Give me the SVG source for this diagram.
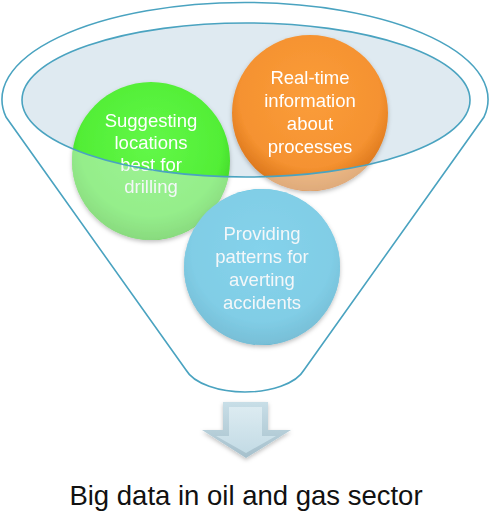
<svg xmlns="http://www.w3.org/2000/svg" width="490" height="514" viewBox="0 0 490 514">
<defs>
<style>
.edge{fill:none;stroke:#4aa3c0;stroke-width:1.6}
.lbl{font-family:"Liberation Sans",Arial,sans-serif;font-size:18.5px;fill:#ffffff;text-anchor:middle}
.title{font-family:"Liberation Sans",Arial,sans-serif;font-size:27.5px;fill:#111111;text-anchor:middle}
</style>
<radialGradient id="gGreen" cx="0.5" cy="0.4" r="0.6">
<stop offset="0" stop-color="#62f848"/><stop offset="0.75" stop-color="#52ee36"/><stop offset="1" stop-color="#3ccb22"/>
</radialGradient>
<radialGradient id="gOrange" cx="0.5" cy="0.4" r="0.6">
<stop offset="0" stop-color="#fb9d3a"/><stop offset="0.75" stop-color="#f59230"/><stop offset="1" stop-color="#d9741a"/>
</radialGradient>
<radialGradient id="gBlue" cx="0.5" cy="0.4" r="0.6">
<stop offset="0" stop-color="#34bde6"/><stop offset="0.75" stop-color="#2db3dc"/><stop offset="1" stop-color="#1e98c0"/>
</radialGradient>
<linearGradient id="gArrow" x1="0" y1="0" x2="0" y2="1">
<stop offset="0" stop-color="#c8dee7"/><stop offset="1" stop-color="#a6c0cc"/>
</linearGradient>
<linearGradient id="gArrowFace" x1="0" y1="0" x2="0" y2="1">
<stop offset="0" stop-color="#dcebf1"/><stop offset="1" stop-color="#c3dbe5"/>
</linearGradient>
<filter id="sh" x="-20%" y="-20%" width="140%" height="140%">
<feDropShadow dx="0" dy="2" stdDeviation="2" flood-color="#000" flood-opacity="0.25"/>
</filter>
<clipPath id="circlesClip">
<circle cx="151" cy="161" r="79"/>
<circle cx="310" cy="113" r="78"/>
<circle cx="262" cy="267" r="78"/>
</clipPath>
</defs>
<rect width="490" height="514" fill="#ffffff"/>
<g id="funnel">
<path d="M 6,117 A 243 97 0 1 1 484,117 L 304,370 C 296,384 270,392 245,392 C 220,392 194,384 186,370 Z" fill="#ffffff"/>
<ellipse cx="246" cy="100" rx="224" ry="77" fill="#dfeaf1"/>
</g>
<g id="node-1" filter="url(#sh)">
<circle cx="151" cy="161" r="79" fill="url(#gGreen)"/>
<text class="lbl" x="151" y="127">Suggesting</text>
<text class="lbl" x="151" y="149">locations</text>
<text class="lbl" x="151" y="171">best for</text>
<text class="lbl" x="151" y="193">drilling</text>
</g>
<g id="node-2" filter="url(#sh)">
<circle cx="310" cy="113" r="78" fill="url(#gOrange)"/>
<text class="lbl" x="310" y="84">Real-time</text>
<text class="lbl" x="310" y="107">information</text>
<text class="lbl" x="310" y="130">about</text>
<text class="lbl" x="310" y="153">processes</text>
</g>
<g id="node-3" filter="url(#sh)">
<circle cx="262" cy="267" r="78" fill="url(#gBlue)"/>
<text class="lbl" x="262" y="240">Providing</text>
<text class="lbl" x="262" y="263">patterns for</text>
<text class="lbl" x="262" y="286">averting</text>
<text class="lbl" x="262" y="309">accidents</text>
</g>
<g id="funnel-front">
<path clip-path="url(#circlesClip)" d="M 6,117 A 243 97 0 1 1 484,117 L 304,370 C 296,384 270,392 245,392 C 220,392 194,384 186,370 Z M 22,100 A 224 77 0 1 0 470,100 A 224 77 0 1 0 22,100 Z" fill="#e6eef2" fill-opacity="0.45" fill-rule="evenodd"/>
<path class="edge" d="M 6,117 A 243 97 0 1 1 484,117 L 304,370 C 296,384 270,392 245,392 C 220,392 194,384 186,370 Z"/>
<ellipse class="edge" cx="246" cy="100" rx="224" ry="77"/>
</g>
<g id="connectors">
<g filter="url(#sh)">
<path d="M 223,402 L 268,402 L 268,430 L 291,430 L 246,458 L 202,430 L 223,430 Z" fill="url(#gArrow)"/>
<path d="M 229,407 L 262,407 L 262,436 L 276,436 L 246,453 L 216,436 L 229,436 Z" fill="url(#gArrowFace)"/>
</g>
</g>
<g id="label">
<text class="title" x="246" y="505">Big data in oil and gas sector</text>
</g>
</svg>
